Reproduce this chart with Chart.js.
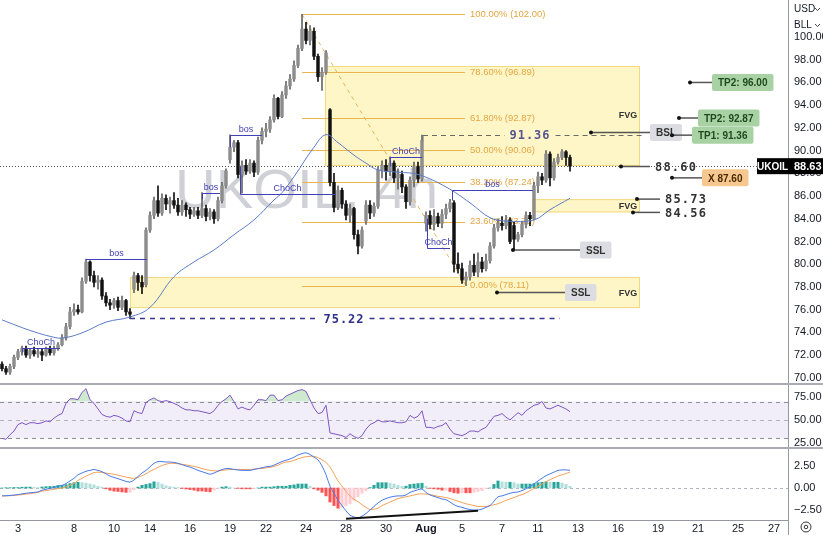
<!DOCTYPE html>
<html><head><meta charset="utf-8">
<script src="https://cdn.jsdelivr.net/npm/chart.js@4.4.1/dist/chart.umd.min.js"></script>
<style>
html,body{margin:0;padding:0;background:#fff;}
#wrap{position:relative;width:823px;height:535px;overflow:hidden;background:#fff;}
.pane{position:absolute;left:0;width:823px;}
.sep{position:absolute;left:0;width:823px;background:#a9acb4;}
</style></head><body>
<div id="wrap">
<div class="pane" style="top:0;height:383px"><canvas id="main" width="823" height="383"></canvas></div>
<div class="sep" style="top:383px;height:2px"></div>
<div class="pane" style="top:385px;height:62px"><canvas id="rsi" width="823" height="62"></canvas></div>
<div class="sep" style="top:447px;height:2px"></div>
<div class="pane" style="top:449px;height:86px"><canvas id="macd" width="823" height="86"></canvas></div>
</div>
<script>
// ---------- DATA ----------
const slotCount = 197;
const xTickIdx  = [4,18,28,37,47,57,66,76,86,96,106,115,125,134,144,154,164,174,184,193];
const xTickText = ['3','8','10','14','16','19','22','24','28','30','Aug','5','7','11','13','16','19','21','25','27'];
const priceTicks = [70,72,74,76,78,80,82,84,86,88,90,92,94,96,98,100];
const rsiTicks = [25,50,75];
const macdTicks = [-2.5,0,2.5];

const candleOpen = [71.2,70.8,70.5,71.0,71.8,72.3,72.6,72.0,72.4,72.1,
 72.3,72.0,72.5,72.2,72.6,72.9,73.5,74.5,75.8,76.0,
 75.8,78.5,80.2,79.0,78.4,78.6,77.2,76.6,76.4,76.8,
 76.2,76.8,75.8,77.8,79.0,78.4,78.2,83.0,84.3,85.6,
 84.5,85.8,85.3,85.6,85.2,84.6,85.2,84.8,84.4,84.7,
 84.3,84.9,84.2,84.6,84.0,85.6,86.9,89.2,90.3,90.7,
 87.9,88.7,88.2,88.9,88.1,90.9,91.7,91.9,92.7,94.6,
 93.0,94.9,95.7,96.3,97.5,99.0,100.7,99.7,100.5,98.3,
 96.5,96.9,93.6,87.2,85.0,86.5,85.3,84.3,84.9,82.6,
 81.6,83.8,85.2,84.5,85.1,88.3,88.7,88.2,88.9,87.6,
 87.9,86.8,85.5,87.4,88.6,87.5,83.6,84.3,83.5,84.2,
 83.6,84.4,84.9,85.4,80.0,79.6,78.6,78.9,79.9,79.3,
 80.2,79.6,80.3,81.6,83.2,83.6,83.4,83.9,83.4,82.2,
 82.6,83.5,84.3,84.0,86.9,87.7,87.4,89.7,87.6,89.0,
 89.4,89.9,89.4];
const candleHigh = [71.4,71.0,71.2,72.0,72.5,72.8,72.8,72.6,72.7,72.5,
 72.6,72.7,72.8,72.8,73.1,73.8,74.8,76.2,76.5,76.4,
 78.8,80.45,80.3,79.4,79.0,78.8,77.5,76.9,77.0,77.1,
 77.2,76.9,76.1,79.3,79.2,79.0,83.2,84.6,85.9,86.9,
 86.2,86.1,85.9,86.3,85.8,85.6,85.4,85.0,85.0,85.0,
 86.3,85.2,84.9,84.8,85.9,87.2,88.4,91.4,90.9,90.9,
 89.1,89.2,89.2,89.1,91.2,92.0,92.4,93.0,94.9,94.7,
 95.2,96.1,96.7,97.9,99.3,102.0,101.3,101.0,100.8,98.5,
 97.3,98.8,93.7,88.0,86.9,86.7,85.6,85.3,85.0,83.0,
 83.3,85.6,85.6,85.4,88.6,89.1,89.2,89.45,89.1,88.4,
 88.2,87.0,87.7,89.0,89.0,91.36,84.6,84.7,84.8,84.5,
 84.8,85.3,85.7,85.6,81.0,80.1,79.3,80.3,80.9,81.0,
 80.6,80.9,81.9,83.5,84.0,84.2,84.3,84.1,83.7,82.8,
 83.8,84.6,84.56,87.2,88.1,88.0,90.0,89.9,89.3,89.7,
 90.1,90.0,89.6];
const candleLow = [70.6,70.3,70.3,70.8,71.6,72.0,71.8,71.7,71.9,71.8,
 71.5,71.9,72.0,72.0,72.4,72.8,73.3,74.3,75.5,75.6,
 75.7,78.3,78.5,78.0,77.8,76.9,76.3,76.0,76.1,75.9,
 76.0,75.5,75.22,77.5,77.7,77.4,78.0,82.8,84.0,84.2,
 84.3,84.8,84.5,84.9,84.3,84.3,84.2,84.0,84.2,84.0,
 84.1,83.8,83.9,83.6,83.8,85.4,86.7,88.9,89.9,87.6,
 86.25,87.9,88.0,87.7,87.9,90.6,91.2,91.6,92.5,92.8,
 92.9,94.6,95.4,96.1,97.3,98.8,99.4,99.3,98.0,96.1,
 95.3,96.7,86.9,84.6,84.8,84.9,83.9,83.7,82.2,80.9,
 81.4,83.5,84.0,84.2,84.9,87.6,87.4,87.8,87.2,86.6,
 86.3,84.9,85.2,86.8,87.2,87.3,82.9,83.1,83.0,83.3,
 83.2,84.0,84.6,79.3,79.2,78.3,78.11,78.6,79.0,78.9,
 79.3,79.4,80.1,81.4,82.9,83.0,83.1,81.8,81.25,82.0,
 82.4,83.2,83.4,83.9,86.3,87.0,87.2,86.9,87.4,88.8,
 89.2,88.7,88.2];
const candleClose = [70.8,70.5,71.0,71.8,72.3,72.6,72.0,72.4,72.1,72.3,
 72.0,72.5,72.2,72.6,72.9,73.5,74.5,75.8,76.0,75.8,
 78.5,80.2,79.0,78.4,78.6,77.2,76.6,76.4,76.8,76.2,
 76.8,75.8,75.6,79.0,78.4,78.0,83.0,84.3,85.6,84.5,
 85.8,85.3,85.6,85.2,84.6,85.2,84.8,84.4,84.7,84.3,
 84.9,84.2,84.6,84.0,85.6,86.9,88.2,90.3,90.7,87.9,
 88.7,88.2,88.9,88.1,90.9,91.7,91.9,92.7,94.6,93.0,
 94.9,95.7,96.3,97.5,99.0,100.7,99.7,100.5,98.3,96.5,
 96.9,98.6,87.2,85.0,86.5,85.3,84.3,84.9,82.6,81.6,
 83.0,85.2,84.5,85.1,88.3,88.7,88.2,88.9,87.6,87.9,
 86.8,85.5,87.4,88.6,87.5,90.9,84.3,83.5,84.2,83.6,
 84.4,84.9,85.4,80.0,79.6,78.6,78.9,79.9,79.3,80.2,
 79.6,80.3,81.6,83.2,83.6,83.4,83.9,82.0,82.2,82.6,
 83.5,84.3,84.0,86.9,87.7,87.4,89.7,87.6,89.0,89.4,
 89.9,89.4,88.63];

const maIdx = [0,4,8,12,15,20,26,32,37,43,48,53,58,63,68,70,73,78,81,84,88,91,94,99,104,111,117,122,126,133,137,142];
const maVal = [75.1,74.55,74.05,73.65,73.5,73.95,74.9,75.35,76.2,78.9,80.2,81.25,82.6,83.9,85.65,86.3,87.7,90.3,91.4,90.7,89.6,88.9,88.3,88.1,87.9,86.8,85.4,84.1,83.8,83.9,84.8,85.8];

const rsiVal = [30,29,34,38,45,47,45,47,47,46,
 47,49,48,52,55,57,68,73,73,72,
 80,84,72,68,62,56,54,53,55,54,
 52,49,48,60,58,57,69,72,74,71,
 70,71,70,68,66,63,61,61,60,60,
 59,58,57,60,66,70,73,77,70,62,
 64,62,61,66,72,72,71,77,77,71,
 72,76,78,80,82,83,81,72,63,57,
 58,66,36,35,34,33,31,35,32,30,
 33,40,45,47,50,48,48,49,48,47,
 47,48,55,52,54,60,42,42,41,43,
 44,47,40,35,34,33,35,38,38,37,
 40,42,48,54,55,57,53,50,54,58,
 55,60,63,66,67,70,63,62,64,66,
 64,62,59];

const macdVal = [-0.9,-0.88,-0.85,-0.8,-0.75,-0.67,-0.6,-0.55,-0.5,-0.45,
 -0.25,-0.15,-0.05,0.05,0.2,0.3,0.5,0.8,1.1,1.5,
 1.7,1.9,2.0,2.1,2.0,1.85,1.6,1.35,1.2,1.05,
 0.9,0.75,0.67,0.9,1.3,1.7,2.0,2.4,2.8,3.0,
 3.0,2.95,2.95,2.9,2.8,2.65,2.5,2.37,2.2,2.0,
 1.85,1.7,1.56,1.7,1.9,2.1,2.2,2.2,2.1,2.05,
 2.0,2.0,2.0,2.1,2.2,2.3,2.4,2.45,2.6,2.8,
 3.0,3.15,3.3,3.5,3.75,3.9,4.0,3.8,3.5,3.2,
 2.5,1.5,0.2,-0.6,-1.4,-2.0,-2.6,-3.1,-3.3,-3.4,
 -3.2,-2.9,-2.5,-2.1,-1.7,-1.4,-1.2,-1.05,-0.95,-0.9,
 -0.9,-0.8,-0.5,-0.35,-0.2,-0.13,-0.5,-0.8,-0.95,-1.1,
 -1.25,-1.34,-1.6,-1.9,-2.1,-2.2,-2.35,-2.45,-2.5,-2.5,
 -2.4,-2.2,-2.0,-1.5,-1.0,-0.9,-0.75,-0.6,-0.5,-0.45,
 -0.3,-0.1,0.15,0.45,0.8,1.1,1.4,1.6,1.8,2.0,
 2.05,2.05,2.0];
const signalVal = [-0.9,-0.9,-0.88,-0.85,-0.8,-0.76,-0.7,-0.65,-0.58,-0.5,
 -0.36,-0.3,-0.22,-0.15,-0.08,0.0,0.12,0.3,0.5,0.85,
 1.1,1.35,1.55,1.75,1.8,1.75,1.7,1.62,1.56,1.45,
 1.35,1.25,1.15,1.1,1.2,1.4,1.6,1.9,2.1,2.35,
 2.55,2.7,2.8,2.8,2.75,2.7,2.62,2.55,2.45,2.35,
 2.2,2.1,2.0,1.95,1.95,2.0,2.05,2.1,2.1,2.1,
 2.1,2.1,2.1,2.15,2.2,2.2,2.3,2.35,2.45,2.6,
 2.8,2.95,3.0,3.15,3.3,3.45,3.55,3.6,3.6,3.45,
 3.2,2.9,2.4,1.6,0.8,0.22,-0.4,-0.9,-1.3,-1.56,
 -1.9,-2.2,-2.45,-2.4,-2.3,-2.0,-1.8,-1.6,-1.4,-1.2,
 -1.1,-1.0,-0.9,-0.8,-0.7,-0.67,-0.7,-0.75,-0.85,-0.95,
 -1.0,-1.1,-1.2,-1.35,-1.5,-1.65,-1.8,-1.9,-2.0,-2.1,
 -2.1,-2.1,-2.0,-1.9,-1.8,-1.6,-1.4,-1.25,-1.1,-0.9,
 -0.75,-0.55,-0.3,-0.05,0.2,0.45,0.7,0.95,1.15,1.35,
 1.5,1.65,1.8];
const histVal = [0.0,0.03,0.03,0.05,0.05,0.09,0.1,0.1,0.08,0.05,
 0.11,0.15,0.17,0.2,0.28,0.3,0.38,0.5,0.6,0.65,
 0.6,0.55,0.45,0.35,0.2,0.1,-0.1,-0.27,-0.36,-0.4,
 -0.45,-0.5,-0.48,-0.2,0.1,0.3,0.4,0.5,0.7,0.65,
 0.45,0.25,0.15,0.1,0.05,-0.05,-0.12,-0.18,-0.25,-0.35,
 -0.35,-0.4,-0.44,-0.25,-0.05,0.1,0.15,0.1,0.0,-0.05,
 -0.1,-0.1,-0.1,-0.05,0.0,0.1,0.1,0.1,0.15,0.2,
 0.2,0.2,0.3,0.35,0.45,0.45,0.45,0.2,-0.1,-0.25,
 -0.5,-0.9,-1.6,-2.0,-2.3,-2.2,-2.0,-1.8,-1.4,-1.0,
 -0.6,-0.3,0.05,0.3,0.6,0.6,0.6,0.55,0.45,0.3,
 0.2,0.2,0.4,0.45,0.5,0.54,0.2,-0.05,-0.1,-0.15,
 -0.25,-0.24,-0.4,-0.55,-0.6,-0.55,-0.55,-0.55,-0.5,-0.4,
 -0.3,-0.1,0.0,0.4,0.8,0.7,0.65,0.65,0.6,0.45,
 0.45,0.45,0.45,0.5,0.6,0.65,0.7,0.65,0.65,0.65,
 0.55,0.4,0.2];
const divIdx = [86,119];
const divVal = [-3.5,-2.6];

const fibPct = ['100.00%','78.60%','61.80%','50.00%','38.20%','23.60%','0.00%'];
const fibPrice = [102.00,96.89,92.87,90.06,87.24,83.75,78.11];
const lastPrice = 88.63;

// ---------- helpers (layout / styling, not data) ----------
const labels = Array.from({length:slotCount},(_,i)=>String(i));
function sparse(idx, val){const a=new Array(candleOpen.length).fill(null); idx.forEach((k,j)=>a[k]=val[j]); return a;}
const FONT='"Liberation Sans", Arial, sans-serif';
const MONO='"DejaVu Sans Mono", monospace';
const NAVY='#4040b8';
function yAxis(min,max,ticks){
  return {position:'right',min,max,
    afterFit(s){s.width=35;s.paddingTop=0;s.paddingBottom=0;},
    afterBuildTicks(s){s.ticks=ticks.map(v=>({value:v}));},
    ticks:{callback:v=>v.toFixed(2).replace('-','\u2212'),color:'#131722',padding:6,font:{family:FONT,size:11}},
    grid:{display:false,drawTicks:false},border:{display:true,color:'#9598a1'}};
}
const hiddenX = {type:'category',labels,offset:true,display:false};
const baseOpts = {responsive:false,animation:false,events:[],layout:{padding:0},
  plugins:{legend:{display:false},tooltip:{enabled:false}}};

// ---------- main chart annotations ----------
const fvgBoxes = [{a:80.75,b:159.5,top:97.45,bot:88.65,lab:93.05},{a:132.5,b:159.5,top:85.73,bot:84.56,lab:85.1},{a:32,b:159.5,top:78.87,bot:76.14,lab:77.46}];
const structs = [
 {a:21,b:36.25,p:80.45,t:'bos'},
 {a:5,b:14.5,p:72.6,t:'ChoCh',tk:72.2},
 {a:50,b:54.5,p:86.3,t:'bos',tk:85.7},
 {a:57,b:65,p:91.4,t:'bos',tk:90.3},
 {a:59.5,b:83.25,p:86.2,t:'ChoCh',tk:88.6},
 {a:97,b:105,p:89.45,t:'ChoCh',tk:88.6},
 {a:106.25,b:112,p:81.4,t:'ChoCh',tk:84.0},
 {a:112.5,b:132.75,p:86.5,t:'bos',tk:85.6}
];
const tags = [
 {d:172,to:177.5,p:96.00,t:'TP2: 96.00',k:'g'},
 {d:169.25,to:174,p:92.87,t:'TP2: 92.87',k:'g'},
 {d:147.25,to:162,p:91.6,t:'BSL',k:'s'},
 {d:167.5,to:172.5,p:91.36,t:'TP1: 91.36',k:'g'},
 {d:154.75,to:162,p:88.60,t:'88.60',k:'n'},
 {d:167.5,to:175,p:87.60,t:'X 87.60',k:'o'},
 {d:158.75,to:164.5,p:85.73,t:'85.73',k:'n'},
 {d:157.75,to:164.5,p:84.56,t:'84.56',k:'n'},
 {d:127.75,to:144.5,p:81.25,t:'SSL',k:'s'},
 {d:123.75,to:140.75,p:77.5,t:'SSL',k:'s'}
];
function hline(ctx,x0,x1,y,col,dash,w){ctx.save();ctx.strokeStyle=col;ctx.lineWidth=w||1;ctx.setLineDash(dash||[]);ctx.beginPath();ctx.moveTo(x0,Math.round(y)+0.5);ctx.lineTo(x1,Math.round(y)+0.5);ctx.stroke();ctx.restore();}
function gapLine(ctx,x0,x1,y,col,dash,w,text,tx,tcol){
  ctx.save();ctx.font='bold 12px '+MONO;ctx.letterSpacing='1px';
  const tw=ctx.measureText(text).width;ctx.restore();
  hline(ctx,x0,tx-tw/2-5,y,col,dash,w);hline(ctx,tx+tw/2+5,x1,y,col,dash,w);
  ctx.save();ctx.font='bold 12px '+MONO;ctx.letterSpacing='1px';ctx.fillStyle=tcol;ctx.textAlign='center';ctx.textBaseline='middle';ctx.fillText(text,tx,y+1);ctx.restore();
}
const mainPlugin = {
 id:'mainAnn',
 beforeDatasetsDraw(ch){
  const ctx=ch.ctx,X=v=>ch.scales.x.getPixelForValue(v),Y=v=>ch.scales.y.getPixelForValue(v);
  // watermark
  ctx.save();ctx.font='56px '+FONT;const wm='UKOIL, 4h';const tw=ctx.measureText(wm).width;
  ctx.translate(175,208);ctx.scale(263/tw,1);ctx.fillStyle='rgba(130,134,150,0.38)';ctx.fillText(wm,0,0);ctx.restore();
  // FVG boxes
  fvgBoxes.forEach(b=>{ctx.save();ctx.fillStyle='rgba(255,234,130,0.45)';ctx.strokeStyle='rgba(240,214,120,0.9)';ctx.lineWidth=1;
    const x0=X(b.a),x1=X(b.b),y0=Y(b.top),y1=Y(b.bot);ctx.fillRect(x0,y0,x1-x0,y1-y0);ctx.strokeRect(x0+0.5,y0+0.5,x1-x0-1,y1-y0-1);
    ctx.fillStyle='#333';ctx.font='bold 9px '+FONT;ctx.textAlign='center';ctx.textBaseline='middle';ctx.fillText('FVG',X(156.5),Y(b.lab));ctx.restore();});
  // Fibonacci
  fibPrice.forEach((p,k)=>{hline(ctx,X(75),X(115.75),Y(p),'#e9b452',[],1);
    ctx.save();ctx.fillStyle='#e3a643';ctx.font='9.5px '+FONT;ctx.textBaseline='middle';ctx.fillText(fibPct[k]+' ('+p.toFixed(2)+')',X(115.75)+5,Y(p));ctx.restore();});
  ctx.save();ctx.strokeStyle='#e6b45a';ctx.setLineDash([4,4]);ctx.lineWidth=1;ctx.beginPath();ctx.moveTo(X(75),Y(102));ctx.lineTo(X(116),Y(78.11));ctx.stroke();ctx.restore();
  // last price dotted line
  hline(ctx,ch.chartArea.left,ch.chartArea.right,Y(lastPrice),'#555',[1,2],1);
 },
 afterDatasetsDraw(ch){
  const ctx=ch.ctx,X=v=>ch.scales.x.getPixelForValue(v),Y=v=>ch.scales.y.getPixelForValue(v);
  structs.forEach(s=>{const y=Math.round(Y(s.p))+0.5;ctx.save();ctx.strokeStyle=NAVY;ctx.lineWidth=1;ctx.beginPath();
    if(s.tk!==undefined){ctx.moveTo(Math.round(X(s.a))+0.5,Y(s.tk));ctx.lineTo(Math.round(X(s.a))+0.5,y);}else{ctx.moveTo(X(s.a),y);}
    ctx.lineTo(X(s.b),y);ctx.stroke();
    ctx.fillStyle=NAVY;ctx.font='9px '+FONT;ctx.textAlign='center';ctx.textBaseline='bottom';ctx.fillText(s.t,(X(s.a)+X(s.b))/2,y-1);ctx.restore();});
  gapLine(ctx,X(32),X(139.5),Y(75.22),'#35358f',[5,5],1.3,'75.22',X(85.5),'#2f2f8a');
  gapLine(ctx,X(105.25),X(160.75),Y(91.36),'#6a6a6a',[5,4],1,'91.36',X(132),'#55558f');
  ctx.save();ctx.strokeStyle='#6a6a6a';ctx.beginPath();ctx.moveTo(X(105.25),Y(91.36));ctx.lineTo(X(105.25),Y(90.9));ctx.stroke();ctx.restore();
  tags.forEach(t=>{const y=Y(t.p),xd=X(t.d),xt=X(t.to);
    ctx.save();ctx.strokeStyle='#555';ctx.lineWidth=1.5;ctx.beginPath();ctx.moveTo(xd,y);ctx.lineTo(xt,y);ctx.stroke();
    ctx.fillStyle='#111';ctx.beginPath();ctx.arc(xd,y,2,0,Math.PI*2);ctx.fill();
    if(t.k==='n'){ctx.font='600 12px '+MONO;ctx.letterSpacing='1.2px';ctx.fillStyle='#333';ctx.textBaseline='middle';ctx.fillText(t.t,xt+5,y+1);}
    else{ctx.font='bold 10px '+FONT;const w=ctx.measureText(t.t).width+12;const h=17;
      const fill={g:'#a8d2a3',s:'#dcdde2',o:'#f6c88f'}[t.k],tc={g:'#1d4a20',s:'#333',o:'#4a2a00'}[t.k];
      ctx.fillStyle=fill;ctx.beginPath();ctx.roundRect(xt,y-h/2,w,h,2);ctx.fill();
      ctx.fillStyle=tc;ctx.textBaseline='middle';ctx.textAlign='center';ctx.fillText(t.t,xt+w/2,y+1);}
    ctx.restore();});
 },
 afterDraw(ch){
  const ctx=ch.ctx,Y=v=>ch.scales.y.getPixelForValue(v);const y=Y(lastPrice);
  ctx.save();
  ctx.fillStyle='#000';ctx.fillRect(757,y-8,31,16);ctx.fillRect(788,y-8,35,16);
  ctx.fillStyle='#fff';ctx.font='bold 10px '+FONT;ctx.textBaseline='middle';ctx.textAlign='center';ctx.fillText('UKOIL',772.5,y+1);
  ctx.font='bold 11px '+FONT;ctx.textAlign='left';ctx.fillText(lastPrice.toFixed(2),794,y+1);
  ctx.fillStyle='#fff';ctx.fillRect(789,0,34,31);
  ctx.fillStyle='#131722';ctx.font='10px '+FONT;ctx.textBaseline='middle';ctx.fillText('USD',794,9);ctx.fillText('BLL',794,25);
  ctx.strokeStyle='#444';ctx.lineWidth=1;[9,25].forEach(yy=>{ctx.beginPath();ctx.moveTo(815,yy-1);ctx.lineTo(817.5,yy+1.5);ctx.lineTo(820,yy-1);ctx.stroke();});
  ctx.restore();
 }
};

new Chart(document.getElementById('main'),{
 type:'bar',
 data:{labels,datasets:[
  {type:'line',data:sparse(maIdx,maVal),borderColor:'#5b7cc6',borderWidth:1,pointRadius:0,tension:0.4,spanGaps:true,order:0},
  {data:candleOpen.map((o,i)=>[o,candleClose[i]]),backgroundColor:candleOpen.map((o,i)=>candleClose[i]>=o?'#8d8d8d':'#111'),barThickness:2.8,grouped:false,minBarLength:1,order:1},
  {data:candleLow.map((l,i)=>[l,candleHigh[i]]),backgroundColor:candleOpen.map((o,i)=>candleClose[i]>=o?'#666':'#111'),barThickness:1,grouped:false,order:2}
 ]},
 options:{...baseOpts,scales:{x:hiddenX,y:yAxis(69.54,103.26,priceTicks)}},
 plugins:[mainPlugin]
});

// ---------- RSI ----------
const rsiPlugin={id:'rsiBand',beforeDatasetsDraw(ch){const ctx=ch.ctx,Y=v=>ch.scales.y.getPixelForValue(v),a=ch.chartArea;
  ctx.save();ctx.fillStyle='rgba(126,87,194,0.10)';ctx.fillRect(a.left,Y(70),a.right-a.left,Y(30)-Y(70));ctx.restore();
  hline(ctx,a.left,a.right,Y(70),'#8a8d97',[4,4],1);hline(ctx,a.left,a.right,Y(50),'rgba(138,141,151,0.6)',[4,4],1);hline(ctx,a.left,a.right,Y(30),'#8a8d97',[4,4],1);}};
new Chart(document.getElementById('rsi'),{
 type:'line',
 data:{labels,datasets:[{data:rsiVal,borderColor:'#7e57c2',borderWidth:1,pointRadius:0,tension:0,
   fill:{target:{value:70},above:'rgba(76,175,80,0.28)',below:'rgba(0,0,0,0)'}}]},
 options:{...baseOpts,scales:{x:hiddenX,y:yAxis(20.65,88,rsiTicks)}},
 plugins:[rsiPlugin]
});

// ---------- MACD ----------
const macdPlugin={id:'macdAnn',
 beforeDatasetsDraw(ch){const a=ch.chartArea;hline(ch.ctx,a.left,a.right,ch.scales.y.getPixelForValue(0),'#b2b5be',[3,3],1);},
 afterDraw(ch){const ctx=ch.ctx;ctx.save();ctx.strokeStyle='#9598a1';ctx.beginPath();ctx.moveTo(788.5,ch.chartArea.bottom);ctx.lineTo(788.5,86);ctx.stroke();
  ctx.strokeStyle='#333';ctx.lineWidth=1;ctx.beginPath();ctx.arc(806,78,5,0,Math.PI*2);ctx.stroke();ctx.beginPath();ctx.arc(806,78,1.8,0,Math.PI*2);ctx.stroke();ctx.restore();}
};
new Chart(document.getElementById('macd'),{
 type:'bar',
 data:{labels,datasets:[
  {type:'line',data:sparse(divIdx,divVal),borderColor:'#111',borderWidth:2,pointRadius:0,spanGaps:true,order:0},
  {type:'line',data:macdVal,borderColor:'#4a7be6',borderWidth:1,pointRadius:0,tension:0.3,order:1},
  {type:'line',data:signalVal,borderColor:'#f4a25a',borderWidth:1,pointRadius:0,tension:0.3,order:2},
  {data:histVal,barThickness:2.4,grouped:false,order:3,
   backgroundColor:histVal.map((v,i)=>{const p=i?histVal[i-1]:0;return v>=0?(v>=p?'#26a69a':'#b2dfdb'):(v<=p?'#ff5252':'#ffcdd2');})}
 ]},
 options:{...baseOpts,scales:{
  x:{type:'category',labels,offset:true,grid:{display:false,drawTicks:false},border:{display:true,color:'#9598a1'},
     afterBuildTicks(s){s.ticks=xTickIdx.map(v=>({value:v}));},
     afterFit(s){s.height=15;s.paddingLeft=0;s.paddingRight=0;},
     ticks:{autoSkip:false,maxRotation:0,padding:2,color:'#131722',
       font:c=>({family:FONT,size:11,weight:(c.tick&&xTickText[xTickIdx.indexOf(c.tick.value)]==='Aug')?'bold':'normal'}),
       callback:v=>xTickText[xTickIdx.indexOf(v)]}},
  y:yAxis(-3.64,4.43,macdTicks)}},
 plugins:[macdPlugin]
});
</script>
</body></html>
